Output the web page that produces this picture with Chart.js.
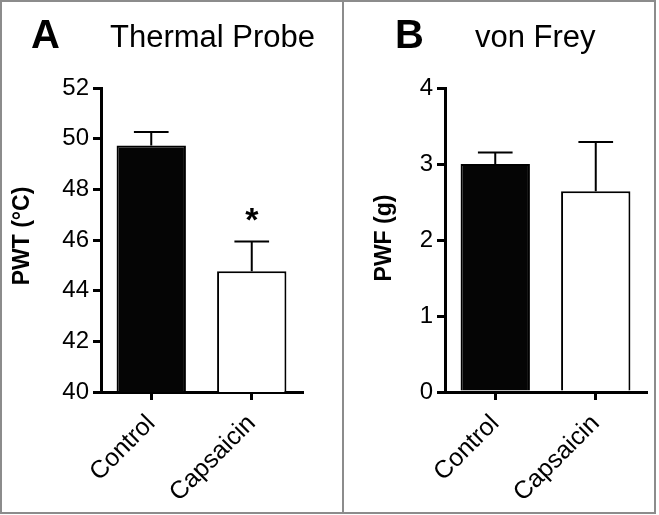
<!DOCTYPE html>
<html>
<head>
<meta charset="utf-8">
<script src="https://cdn.jsdelivr.net/npm/chart.js@4.4.1/dist/chart.umd.min.js"></script>
<style>
  html, body { margin: 0; padding: 0; background: #fff; }
  #wrap { position: relative; width: 659px; height: 515px; }
  #frame { position: absolute; left: 0; top: 0; width: 652px; height: 510px; border: 2px solid #8c8c8c; }
  #divider { position: absolute; left: 342px; top: 0; width: 2px; height: 514px; background: #8c8c8c; }
  canvas { position: absolute; left: 0; top: 0; }
</style>
</head>
<body>
<div id="wrap">
  <div id="frame"></div>
  <div id="divider"></div>
  <canvas id="chartA" width="659" height="515"></canvas>
  <canvas id="chartB" width="659" height="515"></canvas>
</div>
<script>
// Données
const categories = ['Control', 'Capsaicin'];
const thermalMeans = [49.73, 44.77];
const thermalErrors = [0.53, 1.17];
const vonFreyMeans = [3.0, 2.64];
const vonFreyErrors = [0.15, 0.65];
const barColors = ['#050505', '#ffffff'];

const FONT = '"Liberation Sans", Arial, Helvetica, sans-serif';

// Barres d'erreur, lettres et titres
const panelPlugin = {
  id: 'panel',
  afterDatasetsDraw(chart, args, opts) {
    const ctx = chart.ctx;
    const meta = chart.getDatasetMeta(0);
    const y = chart.scales.y;
    ctx.save();
    ctx.strokeStyle = '#000';
    ctx.lineWidth = 2;
    meta.data.forEach((bar, i) => {
      const top = y.getPixelForValue(opts.means[i] + opts.errors[i]);
      const half = bar.width / 4;
      ctx.beginPath();
      ctx.moveTo(bar.x, bar.y);
      ctx.lineTo(bar.x, top);
      ctx.moveTo(bar.x - half, top);
      ctx.lineTo(bar.x + half, top);
      ctx.stroke();
      if (opts.stars && opts.stars[i]) {
        ctx.fillStyle = '#000';
        ctx.font = 'bold 34px ' + FONT;
        ctx.textAlign = 'center';
        ctx.textBaseline = 'alphabetic';
        ctx.fillText(opts.stars[i], bar.x, top - 11);
      }
    });

    // Lettre du panneau
    ctx.fillStyle = '#000';
    ctx.textAlign = 'left';
    ctx.textBaseline = 'alphabetic';
    ctx.font = 'bold 40px ' + FONT;
    ctx.fillText(opts.letter, opts.letterX, 48);
    ctx.font = '31px ' + FONT;
    ctx.fillText(opts.title, opts.titleX, 47);

    // Titre de l'axe Y
    ctx.translate(opts.yTitleX, opts.yTitleY);
    ctx.rotate(-Math.PI / 2);
    ctx.font = 'bold 23px ' + FONT;
    ctx.textAlign = 'center';
    ctx.textBaseline = 'middle';
    ctx.fillText(opts.yTitle, 0, 0);
    ctx.restore();
  }
};

function makeChart(id, means, panel, yOpts, padLeft, padRight) {
  const ctx = document.getElementById(id).getContext('2d');
  return new Chart(ctx, {
    type: 'bar',
    data: {
      labels: categories,
      datasets: [{
        data: means,
        backgroundColor: barColors,
        borderColor: '#000',
        borderWidth: 2,
        barPercentage: 0.69,
        categoryPercentage: 1
      }]
    },
    options: {
      responsive: false,
      animation: false,
      devicePixelRatio: 1,
      layout: { padding: { left: padLeft, right: padRight, top: 88, bottom: 0 } },
      plugins: {
        legend: { display: false },
        tooltip: { enabled: false },
        panel: panel
      },
      scales: {
        x: {
          grid: { display: true, drawOnChartArea: false, offset: false, color: '#000', lineWidth: 3, tickLength: 8 },
          border: { display: true, color: '#000', width: 3 },
          ticks: { color: '#000', font: { family: FONT, size: 25 }, minRotation: 45, maxRotation: 45, autoSkip: false, padding: 9 },
          afterFit: (scale) => { scale.height = 123; }
        },
        y: {
          min: yOpts.min,
          max: yOpts.max,
          grid: { drawOnChartArea: false, color: '#000', lineWidth: 3, tickLength: 8 },
          border: { display: true, color: '#000', width: 3 },
          ticks: { stepSize: yOpts.step, color: '#000', font: { family: FONT, size: 24 }, padding: 4 },
          afterFit: (scale) => { scale.width = 101; }
        }
      }
    },
    plugins: [panelPlugin]
  });
}

makeChart('chartA', thermalMeans, {
  means: thermalMeans, errors: thermalErrors, stars: ['', '*'],
  letter: 'A', letterX: 31, title: 'Thermal Probe', titleX: 110,
  yTitle: 'PWT (°C)', yTitleX: 23, yTitleY: 236
}, { min: 40, max: 52, step: 2 }, 0, 357);

makeChart('chartB', vonFreyMeans, {
  means: vonFreyMeans, errors: vonFreyErrors, stars: ['', ''],
  letter: 'B', letterX: 395, title: 'von Frey', titleX: 475,
  yTitle: 'PWF (g)', yTitleX: 385, yTitleY: 238
}, { min: 0, max: 4, step: 1 }, 344, 13);
</script>
</body>
</html>
